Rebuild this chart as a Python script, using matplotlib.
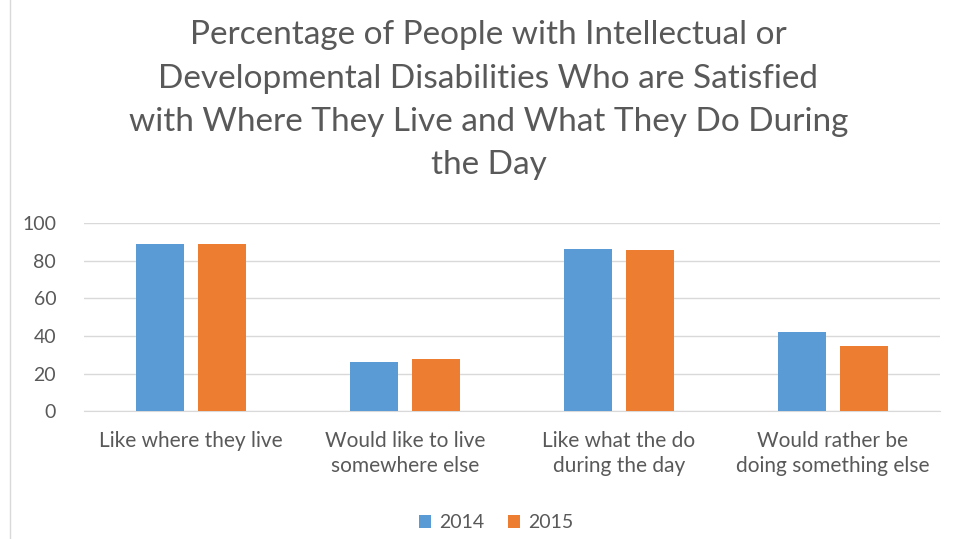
import numpy as np
import matplotlib.pyplot as plt
from matplotlib.lines import Line2D

plt.rcParams['font.family'] = ['Lato', 'DejaVu Sans']

# data
categories = ["Like where they live", "Would like to live\nsomewhere else",
              "Like what the do\nduring the day", "Would rather be\ndoing something else"]
series_names = ["2014", "2015"]
values_2014 = [89, 26, 86.5, 42]
values_2015 = [89, 28, 85.5, 34.5]
yticks = [0, 20, 40, 60, 80, 100]

blue = "#5b9bd5"
orange = "#ed7d31"
text_gray = "#595959"

fig = plt.figure(figsize=(9.54, 5.39), dpi=100)
ax = fig.add_axes([0.088, 0.237, 0.897, 0.349])

x = np.arange(len(categories))
w = 0.224
ax.bar(x - 0.145, values_2014, w, color=blue, label=series_names[0], zorder=3)
ax.bar(x + 0.145, values_2015, w, color=orange, label=series_names[1], zorder=3)

ax.set_xlim(-0.5, len(categories) - 0.5)
ax.set_ylim(0, 100)
ax.set_yticks(yticks)
ax.set_xticks(x)
ax.set_xticklabels(categories, fontsize=15, color=text_gray, linespacing=1.35)
ax.tick_params(axis='y', labelsize=14, colors=text_gray, length=0, pad=20)
ax.tick_params(axis='x', length=0, pad=14)
ax.grid(axis='y', color="#d9d9d9", linewidth=1, zorder=0)
for s in ['top', 'right', 'left']:
    ax.spines[s].set_visible(False)
ax.spines['bottom'].set_color("#d9d9d9")

fig.text(0.512, 0.962, "Percentage of People with Intellectual or\n"
         "Developmental Disabilities Who are Satisfied\n"
         "with Where They Live and What They Do During\n"
         "the Day", ha='center', va='top', fontsize=24, color=text_gray,
         linespacing=1.55)

fig.legend(loc='lower center', bbox_to_anchor=(0.52, -0.018), ncol=2, frameon=False,
           fontsize=14, labelcolor=text_gray, handlelength=0.65, handleheight=0.65,
           handletextpad=0.4, columnspacing=1.2)

fig.add_artist(Line2D([0.0105, 0.0105], [0, 1], color="#d9d9d9", linewidth=1,
                      transform=fig.transFigure))

plt.savefig("out.png", dpi=100)
